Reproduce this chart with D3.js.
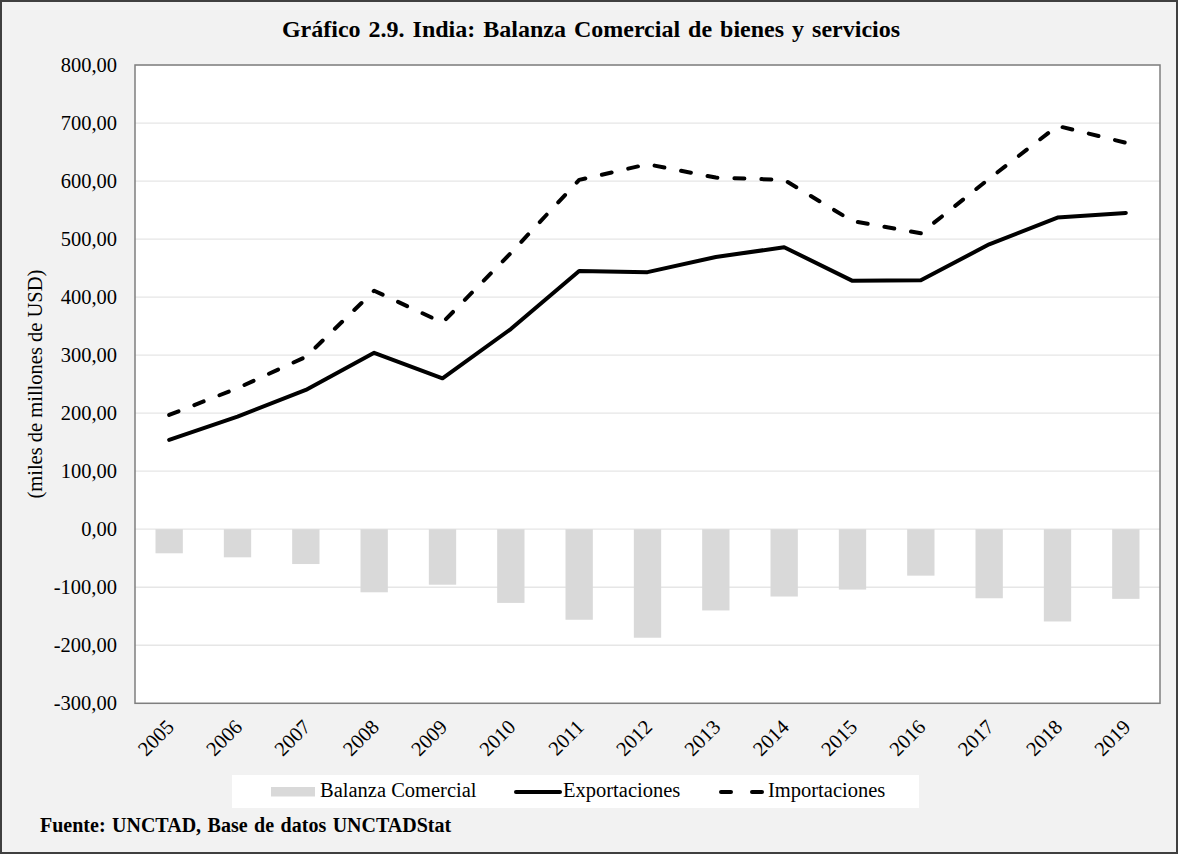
<!DOCTYPE html>
<html>
<head>
<meta charset="utf-8">
<style>
body { margin: 0; background: #ffffff; }
text { font-family: "Liberation Serif", "Times New Roman", serif; fill: #000; }
</style>
</head>
<body>
<svg width="1179" height="854"></svg>
<script src="https://d3js.org/d3.v7.min.js"></script>
<script>
var years = ["2005", "2006", "2007", "2008", "2009", "2010", "2011", "2012", "2013", "2014", "2015", "2016", "2017", "2018", "2019"];
var exportaciones = [154, 194, 240, 304, 260, 345, 445, 443, 469, 486, 428, 429, 491, 537, 545];
var importaciones = [197, 243, 297, 411, 356, 476, 602, 629, 606, 602, 531, 510, 604, 695, 666];
var balanza = [-41.5, -48.4, -60, -108.7, -95.6, -127, -156, -187, -140, -116, -104, -80, -119, -159, -120];
var yTicks = [-300, -200, -100, 0, 100, 200, 300, 400, 500, 600, 700, 800];

var svg = d3.select("svg"),
    width = +svg.attr("width"),
    height = +svg.attr("height");

var plot = {left: 135, right: 1160, top: 65, bottom: 703.3};

// fondo y marco exterior
svg.append("rect")
    .attr("x", 1).attr("y", 1)
    .attr("width", width - 3).attr("height", height - 2)
    .attr("fill", "#f2f2f2")
    .attr("stroke", "#404040")
    .attr("stroke-width", 2);

svg.append("rect")
    .attr("x", plot.left).attr("y", plot.top)
    .attr("width", plot.right - plot.left).attr("height", plot.bottom - plot.top)
    .attr("fill", "#ffffff");

var x = d3.scaleBand()
    .domain(years)
    .range([plot.left, plot.right])
    .paddingInner(0.6)
    .paddingOuter(0.3);

var y = d3.scaleLinear()
    .domain([-300, 800])
    .range([plot.bottom, plot.top]);

function cx(d) { return x(d) + x.bandwidth() / 2; }

// rejilla
svg.append("g")
  .selectAll("line")
  .data(yTicks)
  .enter().append("line")
    .attr("x1", plot.left).attr("x2", plot.right)
    .attr("y1", function(d) { return y(d); })
    .attr("y2", function(d) { return y(d); })
    .attr("stroke", "#e6e6e6")
    .attr("stroke-width", 1.3);

// eje y
var yAxis = svg.append("g")
    .attr("transform", "translate(" + plot.left + ",0)")
    .call(d3.axisLeft(y)
      .tickValues(yTicks)
      .tickSize(0)
      .tickPadding(18)
      .tickFormat(function(d) { return d.toFixed(2).replace(".", ","); }));
yAxis.select(".domain").remove();
yAxis.selectAll("text")
    .attr("font-family", "Liberation Serif, Times New Roman, serif")
    .attr("font-size", "20.5px")
    .attr("fill", "#000");

// barras
svg.append("g")
  .selectAll("rect")
  .data(years)
  .enter().append("rect")
    .attr("x", function(d) { return x(d); })
    .attr("width", x.bandwidth())
    .attr("y", function(d, i) { return y(Math.max(0, balanza[i])); })
    .attr("height", function(d, i) { return Math.abs(y(balanza[i]) - y(0)); })
    .attr("fill", "#d9d9d9");

// lineas
var line = d3.line()
    .x(function(d, i) { return cx(years[i]); })
    .y(function(d) { return y(d); });

svg.append("path")
    .datum(importaciones)
    .attr("d", line)
    .attr("fill", "none")
    .attr("stroke", "#000")
    .attr("stroke-width", 4)
    .attr("stroke-linecap", "round")
    .attr("stroke-linejoin", "round")
    .attr("stroke-dasharray", "10,17");

svg.append("path")
    .datum(exportaciones)
    .attr("d", line)
    .attr("fill", "none")
    .attr("stroke", "#000")
    .attr("stroke-width", 4)
    .attr("stroke-linecap", "round")
    .attr("stroke-linejoin", "round");

// borde del area de trazado
svg.append("rect")
    .attr("x", plot.left).attr("y", plot.top)
    .attr("width", plot.right - plot.left).attr("height", plot.bottom - plot.top)
    .attr("fill", "none")
    .attr("stroke", "#7f7f7f")
    .attr("stroke-width", 1.5);

// etiquetas eje x
svg.append("g")
  .selectAll("text")
  .data(years)
  .enter().append("text")
    .attr("transform", function(d) { return "translate(" + (cx(d) + 6) + "," + (plot.bottom + 25) + ") rotate(-45)"; })
    .attr("text-anchor", "end")
    .attr("font-size", "20.5px")
    .text(function(d) { return d; });

// titulo eje y
svg.append("text")
    .attr("transform", "translate(42," + ((plot.top + plot.bottom) / 2) + ") rotate(-90)")
    .attr("text-anchor", "middle")
    .attr("font-size", "20.5px")
    .text("(miles de millones de USD)");

// titulo
svg.append("text")
    .attr("x", 591).attr("y", 37)
    .attr("text-anchor", "middle")
    .attr("font-size", "24px")
    .attr("font-weight", "bold")
    .attr("word-spacing", "2px")
    .text("Gráfico 2.9. India: Balanza Comercial de bienes y servicios");

// leyenda
var lg = svg.append("g");
lg.append("rect")
    .attr("x", 232).attr("y", 775)
    .attr("width", 687).attr("height", 33)
    .attr("fill", "#ffffff");
lg.append("rect")
    .attr("x", 271).attr("y", 787)
    .attr("width", 44).attr("height", 9.5)
    .attr("fill", "#d9d9d9");
lg.append("text").attr("x", 320).attr("y", 797).attr("font-size", "20.5px").text("Balanza Comercial");
lg.append("line")
    .attr("x1", 516).attr("x2", 560).attr("y1", 792).attr("y2", 792)
    .attr("stroke", "#000").attr("stroke-width", 4).attr("stroke-linecap", "round");
lg.append("text").attr("x", 563).attr("y", 797).attr("font-size", "20.5px").text("Exportaciones");
lg.append("line")
    .attr("x1", 721).attr("x2", 762).attr("y1", 792).attr("y2", 792)
    .attr("stroke", "#000").attr("stroke-width", 4).attr("stroke-linecap", "round")
    .attr("stroke-dasharray", "10,21");
lg.append("text").attr("x", 768).attr("y", 797).attr("font-size", "20.5px").text("Importaciones");

// fuente
svg.append("text")
    .attr("x", 40).attr("y", 832)
    .attr("font-size", "20px")
    .attr("font-weight", "bold")
    .attr("word-spacing", "1.5px")
    .text("Fuente: UNCTAD, Base de datos UNCTADStat");
</script>
</body>
</html>
